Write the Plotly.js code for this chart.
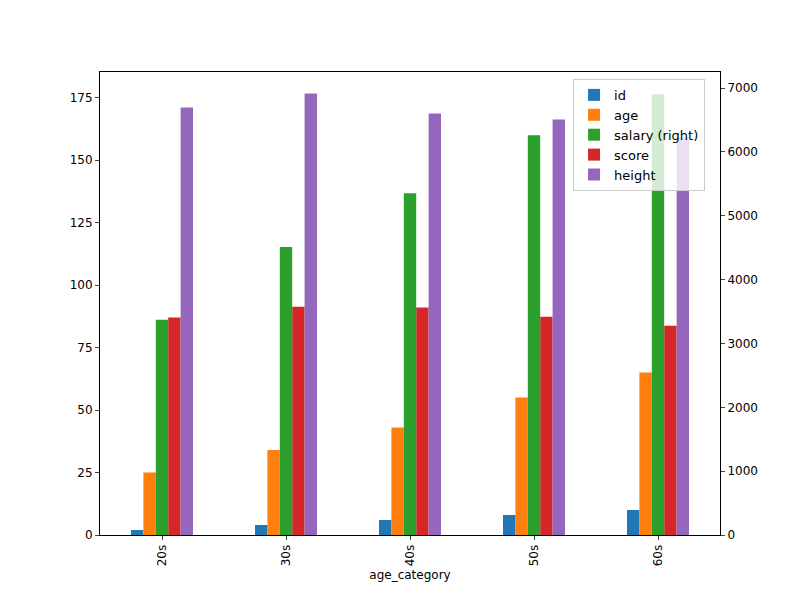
<!DOCTYPE html>
<html><head><script src="https://cdn.plot.ly/plotly-3.0.1.min.js"></script></head>
<body style="margin:0"><div id="c" style="width:800px;height:600px"></div>
<script>
const categories = ["20s","30s","40s","50s","60s"];
const id = [2,4,6,8,10];
const age = [25,34,43,55,65];
const salary = [3370,4510,5355,6264,6906];
const score = [87,91.3,91,87.3,83.7];
const height = [171,176.6,168.6,166.2,159];
const series = [
 {name:"id", y:id, color:"#1f77b4", ax:"y"},
 {name:"age", y:age, color:"#ff7f0e", ax:"y"},
 {name:"salary (right)", y:salary, color:"#2ca02c", ax:"y2"},
 {name:"score", y:score, color:"#d62728", ax:"y"},
 {name:"height", y:height, color:"#9467bd", ax:"y"}
];
const traces = series.map((s,i)=>({type:"bar", x:categories, y:s.y, name:s.name, yaxis:s.ax,
  marker:{color:s.color}, width:0.1, offset:-0.25+i*0.1}));
const font = {family:"DejaVu Sans", size:12, color:"#000"};
Plotly.newPlot("c", traces, {
  width:800, height:600, font:font, showlegend:true,
  margin:{l:100, r:80, t:72, b:65},
  paper_bgcolor:"#fff", plot_bgcolor:"#fff",
  xaxis:{type:"category", range:[-0.5,4.5], tickangle:-90, showline:true, mirror:true, linecolor:"#000",
    ticks:"outside", ticklen:4, title:{text:"age_category", font:font, standoff:5}},
  yaxis:{range:[0,185.2], tickvals:[0,25,50,75,100,125,150,175], showgrid:false, zeroline:false,
    showline:true, linecolor:"#000", ticks:"outside", ticklen:4},
  yaxis2:{overlaying:"y", side:"right", range:[0,7253], tickvals:[0,1000,2000,3000,4000,5000,6000,7000],
    showgrid:false, zeroline:false, showline:true, linecolor:"#000", ticks:"outside", ticklen:4},
  legend:{x:0.763, y:0.985, xanchor:"left", yanchor:"top", bordercolor:"#ccc", borderwidth:1,
    tracegroupgap:2, bgcolor:"rgba(255,255,255,0.8)", font:{family:"DejaVu Sans", size:13}}
}, {staticPlot:true});
</script></body></html>
